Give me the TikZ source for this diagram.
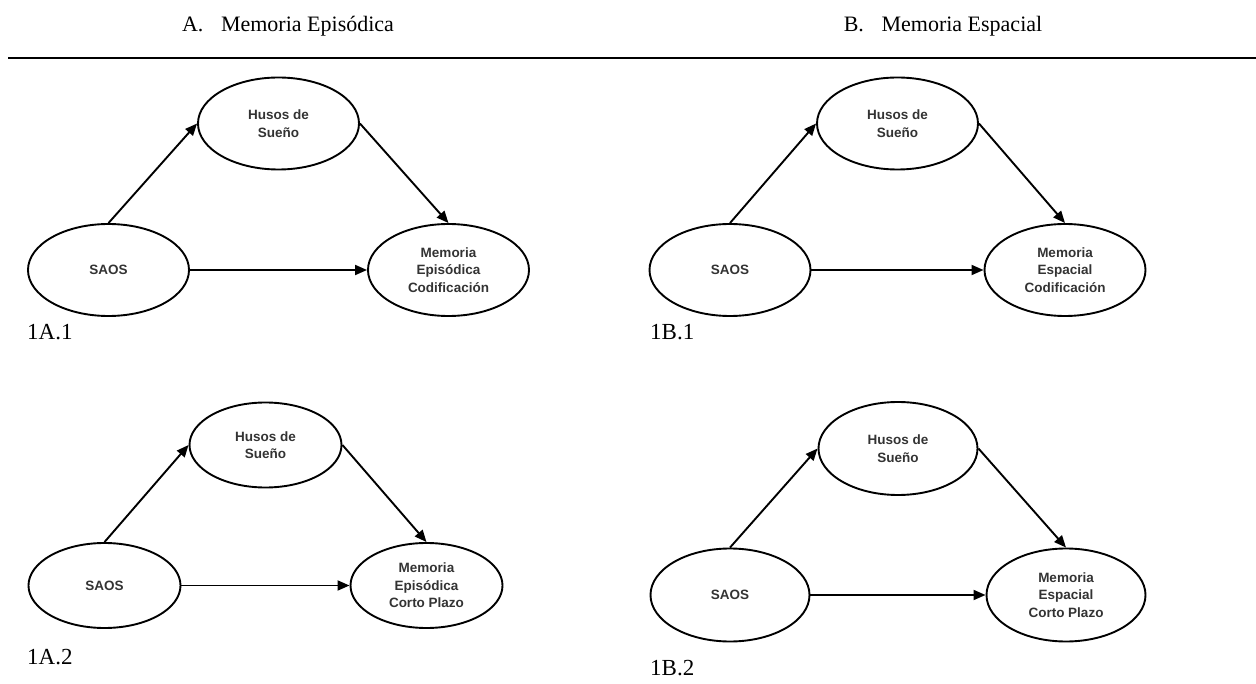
\documentclass[tikz,border=0pt]{standalone}
\usepackage{fontspec}
\setmainfont{Liberation Serif}
\newfontfamily\arialf{Liberation Sans}
\usetikzlibrary{arrows.meta,shapes.geometric}
\newcommand{\triada}[4]{%
  \node[elip] (#1saos) at (0,0) {SAOS};
  \node[elip] (#1husos) at (#2/2,-#3) {Husos de\\Sueño};
  \node[elip] (#1mem) at (#2,0) {#4};
  \draw[flecha] (#1saos.north) -- (#1husos.west);
  \draw[flecha] (#1husos.east) -- (#1mem.north);
  \draw[flecha] (#1saos) -- (#1mem);}
\tikzset{
  elip/.style={ellipse, draw=black, line width=1.9pt, minimum width=161pt, minimum height=92pt,
    inner sep=0pt, align=center, text=black!80,
    font=\arialf\bfseries\fontsize{13.5}{17.5}\selectfont},
  flecha/.style={-{Triangle[length=12pt,width=10pt]}, line width=1.9pt},
  ttl/.style={font=\fontsize{22}{25}\selectfont, anchor=base, inner sep=0pt},
  etq/.style={font=\fontsize{23}{26}\selectfont, anchor=base west, inner sep=0pt},
}
\begin{document}
\begin{tikzpicture}[x=1pt,y=-1pt]
\useasboundingbox (0,0) rectangle (1256,684);
\node[ttl] (tituloA) at (288,32) {A.\hspace{0.8em}Memoria Episódica};
\node[ttl] (tituloB) at (943,32) {B.\hspace{0.8em}Memoria Espacial};
\draw[line width=2.6pt] (8,58) -- (1256,58);
\begin{scope}[shift={(108.5,270)}]
  \triada{a1}{340}{146.5}{Memoria\\Episódica\\Codificación}
\end{scope}
\begin{scope}[shift={(730,270)}]
  \triada{b1}{335}{146.5}{Memoria\\Espacial\\Codificación}
\end{scope}
\begin{scope}[shift={(104.5,585.5)}, elip/.append style={minimum width=152pt, minimum height=85pt}]
  \triada{a2}{322}{140.5}{Memoria\\Episódica\\Corto Plazo}
\end{scope}
\begin{scope}[shift={(730,595)}, elip/.append style={minimum width=159pt, minimum height=93pt}]
  \triada{b2}{336}{146.5}{Memoria\\Espacial\\Corto Plazo}
\end{scope}
\node[etq] (lab1A1) at (27,340) {1A.1};
\node[etq] (lab1B1) at (650,340) {1B.1};
\node[etq] (lab1A2) at (27,664) {1A.2};
\node[etq] (lab1B2) at (650,675) {1B.2};
\end{tikzpicture}
\end{document}
